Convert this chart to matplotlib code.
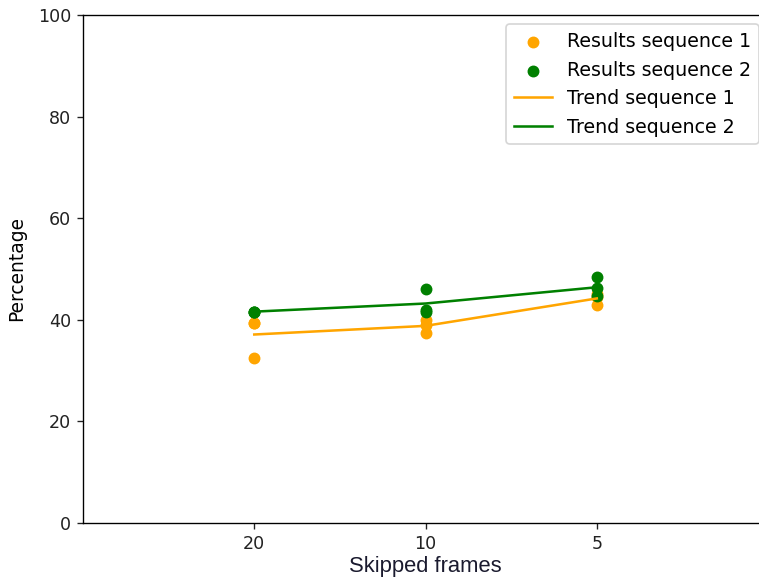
import numpy as np
import matplotlib
matplotlib.use('Agg')
import matplotlib.pyplot as plt

# skipped frames categories
frames = ['20', '10', '5']

# individual results per category
seq1_x = ['20', '20', '20', '10', '10', '10', '5', '5', '5']
seq1_y = [39.4, 39.4, 32.4, 37.3, 39.0, 40.0, 43.0, 44.5, 45.0]
seq2_x = ['20', '20', '20', '10', '10', '10', '5', '5', '5']
seq2_y = [41.6, 41.6, 41.5, 46.0, 42.0, 41.5, 48.4, 46.2, 44.7]

# trend = mean per category
trend1 = [37.1, 38.8, 44.2]
trend2 = [41.6, 43.2, 46.4]

DPI = 122
fig = plt.figure(figsize=(759 / DPI, 582 / DPI), dpi=DPI)
# axes run past the right edge of the picture (cropped like the original)
ax = fig.add_axes([0.1094, 0.1014, 0.9025, 0.8729])

s1 = ax.scatter(seq1_x, seq1_y, color='orange', label='Results sequence 1')
s2 = ax.scatter(seq2_x, seq2_y, color='green', label='Results sequence 2')
l1, = ax.plot(frames, trend1, color='orange', label='Trend sequence 1')
l2, = ax.plot(frames, trend2, color='green', label='Trend sequence 2')

ax.set_xlim(-1, 3)
ax.set_ylim(0, 100)
ax.spines['right'].set_visible(False)
ax.set_xlabel('Skipped frames', family='Liberation Sans', fontsize=13, color='#1a1a2e', labelpad=2)
ax.set_ylabel('Percentage', fontsize=11, labelpad=7)
ax.tick_params(labelsize=10.3, colors='#222222')
ax.legend(handles=[s1, s2, l1, l2], loc='upper right', fontsize=11.2)

fig.savefig('out.png', dpi=DPI)
